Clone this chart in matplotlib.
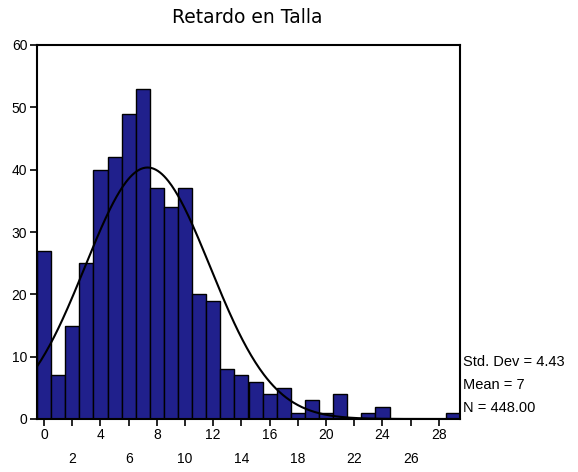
import numpy as np
import matplotlib
matplotlib.use("Agg")
import matplotlib.pyplot as plt

plt.rcParams['font.family'] = ['Liberation Sans', 'DejaVu Sans']

# histogram of "Retardo en Talla" (bin width 1, centered on integers)
bins = list(range(0, 30))
counts = [27, 7, 15, 25, 40, 42, 49, 53, 37, 34, 37, 20, 19, 8, 7, 6, 4, 5,
          1, 3, 1, 4, 0, 1, 2, 0, 0, 0, 0, 1]
std_dev = 4.43
mean_val = 7.34
n_total = 448
stats_labels = ["Std. Dev = 4.43", "Mean = 7", "N = 448.00"]

fig = plt.figure(figsize=(5.78, 4.72), dpi=100)
ax = fig.add_axes([37 / 578, 1 - 419 / 472, (460 - 37) / 578, (419 - 45) / 472])

ax.bar(bins, counts, width=1.0, color="#20208c", edgecolor="black", linewidth=1.0)

# normal curve
xs = np.linspace(-0.5, 29.5, 400)
ys = n_total * 1.0 / (std_dev * np.sqrt(2 * np.pi)) * np.exp(-0.5 * ((xs - mean_val) / std_dev) ** 2)
ax.plot(xs, ys, color="black", linewidth=1.5)

ax.set_xlim(-0.5, 29.5)
ax.set_ylim(0, 60)
ax.set_yticks(range(0, 61, 10))
ax.set_xticks(range(0, 29, 2))
ax.set_xticklabels([])
ax.tick_params(axis="both", direction="out", length=5, width=1.2, pad=2, labelsize=10, colors="black")
for s in ax.spines.values():
    s.set_linewidth(1.5)

# staggered x labels
for t in range(0, 29, 2):
    ypos = -0.043 if t % 4 == 0 else -0.107
    ax.text(t, ypos, str(t), transform=ax.get_xaxis_transform(), ha="center", va="center", fontsize=10)

fig.text(247 / 578, 1 - 17.5 / 472, "Retardo en Talla", ha="center", va="center",
         fontsize=13.5, family="DejaVu Sans")

for i, lab in enumerate(stats_labels):
    fig.text(463 / 578, 1 - (362 + 23 * i) / 472, lab, ha="left", va="center", fontsize=10.5)

fig.savefig("out.png", dpi=100)
